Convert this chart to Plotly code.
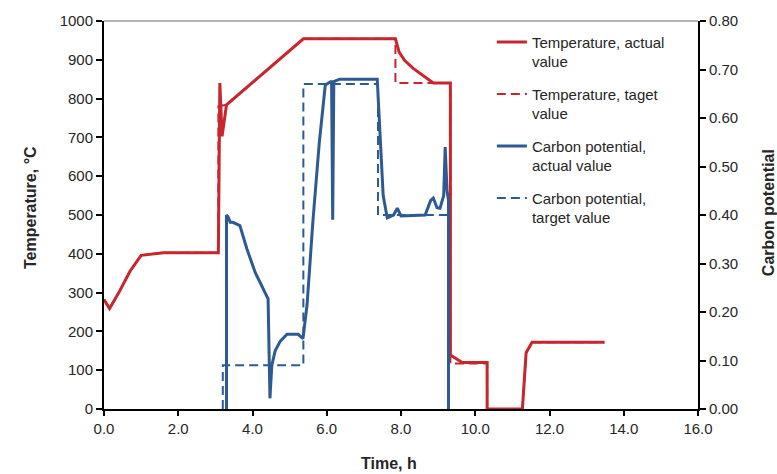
import plotly.graph_objects as go

# Temperature, actual value (°C)
temp_act_t = [0, 0.15, 0.4, 0.7, 1.0, 1.6, 3.08, 3.12, 3.18, 3.3, 5.37, 7.85, 7.95, 8.1, 8.33, 8.6, 8.87, 9.33, 9.33, 9.36, 9.65, 10.32, 10.32, 11.27, 11.37, 11.53, 13.48]
temp_act_v = [282, 259, 300, 355, 396, 403, 403, 840, 703, 784, 954, 954, 920, 898, 878, 858, 840, 840, 137, 137, 120, 120, 0, 0, 145, 172, 172]

# Temperature, target value (°C)
temp_tgt_t = [0, 0.15, 0.4, 0.7, 1.0, 1.6, 3.08, 3.08, 3.3, 5.37, 7.85, 7.85, 9.33, 9.33, 10.32, 10.32, 11.27, 11.37, 11.53, 13.48]
temp_tgt_v = [282, 259, 300, 355, 396, 403, 403, 780, 784, 954, 954, 840, 840, 117, 117, 0, 0, 145, 172, 172]

# Carbon potential, actual value
cp_act_t = [3.3, 3.3, 3.35, 3.4, 3.47, 3.66, 3.85, 4.07, 4.42, 4.44, 4.47, 4.52, 4.61, 4.75, 4.93, 5.23, 5.36, 5.47, 5.63, 5.8, 5.96, 6.1, 6.13, 6.16, 6.19, 6.35, 7.36, 7.52, 7.63, 7.8, 7.9, 8.0, 8.65, 8.8, 8.87, 8.97, 9.05, 9.15, 9.19, 9.24, 9.28, 9.28]
cp_act_v = [0, 0.40, 0.395, 0.385, 0.385, 0.378, 0.33, 0.282, 0.227, 0.12, 0.022, 0.09, 0.12, 0.14, 0.154, 0.154, 0.145, 0.215, 0.39, 0.55, 0.668, 0.675, 0.675, 0.39, 0.675, 0.68, 0.68, 0.44, 0.394, 0.40, 0.414, 0.398, 0.40, 0.43, 0.435, 0.415, 0.414, 0.44, 0.54, 0.45, 0.43, 0]

# Carbon potential, target value
cp_tgt_t = [3.2, 3.2, 5.37, 5.37, 7.38, 7.38, 9.28, 9.28]
cp_tgt_v = [0, 0.09, 0.09, 0.67, 0.67, 0.40, 0.40, 0]

x_ticks = [0, 2, 4, 6, 8, 10, 12, 14, 16]

RED = "#C8262E"
BLUE = "#2E5A94"
FONT = "Liberation Sans, Arial, sans-serif"
TXT = "#262626"

fig = go.Figure()
fig.add_trace(go.Scatter(x=temp_act_t, y=temp_act_v, mode="lines", name="Temperature, actual<br>value",
                         line=dict(color=RED, width=3), legendgroup="a"))
fig.add_trace(go.Scatter(x=temp_tgt_t, y=temp_tgt_v, mode="lines", name="Temperature, taget<br>value",
                         line=dict(color=RED, width=2, dash="9px,5px"), legendgroup="b"))
fig.add_trace(go.Scatter(x=cp_act_t, y=cp_act_v, mode="lines", name="Carbon potential,<br>actual value",
                         line=dict(color=BLUE, width=3), yaxis="y2", legendgroup="c"))
fig.add_trace(go.Scatter(x=cp_tgt_t, y=cp_tgt_v, mode="lines", name="Carbon potential,<br>target value",
                         line=dict(color=BLUE, width=2, dash="9px,5px"), yaxis="y2", legendgroup="d"))

fig.update_layout(
    width=777, height=474,
    margin=dict(l=104, r=79, t=15, b=65),
    paper_bgcolor="white", plot_bgcolor="white",
    font=dict(family=FONT, size=15, color=TXT),
    showlegend=True,
    legend=dict(x=0.653, y=0.988, xanchor="left", yanchor="top", bgcolor="rgba(0,0,0,0)",
                font=dict(size=15, color=TXT), tracegroupgap=10, valign="top", itemwidth=30),
    xaxis=dict(range=[0, 16], tickvals=x_ticks, ticktext=[f"{v:.1f}" for v in x_ticks],
               showgrid=False, zeroline=False, showline=True, linecolor="black", linewidth=2,
               ticks="outside", ticklen=5, tickwidth=2, tickcolor="black"),
    yaxis=dict(range=[0, 1000], dtick=100, showgrid=False, zeroline=False, showline=True,
               linecolor="black", linewidth=2, ticks="outside", ticklen=6, tickwidth=2, tickcolor="black"),
    yaxis2=dict(range=[0, 0.8], dtick=0.1, tickformat=".2f", overlaying="y", side="right",
                showgrid=False, zeroline=False, showline=True, linecolor="black", linewidth=2,
                ticks="outside", ticklen=6, tickwidth=2, tickcolor="black"),
    shapes=[dict(type="line", xref="paper", yref="paper", x0=0, x1=1, y0=1, y1=1,
                 line=dict(color="#9a9a9a", width=1.5))],
    annotations=[
        dict(text="<b>Time, h</b>", xref="paper", yref="paper", x=0.48, y=-0.14,
             xanchor="center", yanchor="middle", showarrow=False, font=dict(size=16, color=TXT)),
        dict(text="<b>Temperature, °C</b>", xref="paper", yref="paper", x=-0.125, y=0.52,
             xanchor="center", yanchor="middle", textangle=-90, showarrow=False, font=dict(size=16, color=TXT)),
        dict(text="<b>Carbon potential</b>", xref="paper", yref="paper", x=1.118, y=0.505,
             xanchor="center", yanchor="middle", textangle=-90, showarrow=False, font=dict(size=16, color=TXT)),
    ],
)

fig.write_html("out.html")
